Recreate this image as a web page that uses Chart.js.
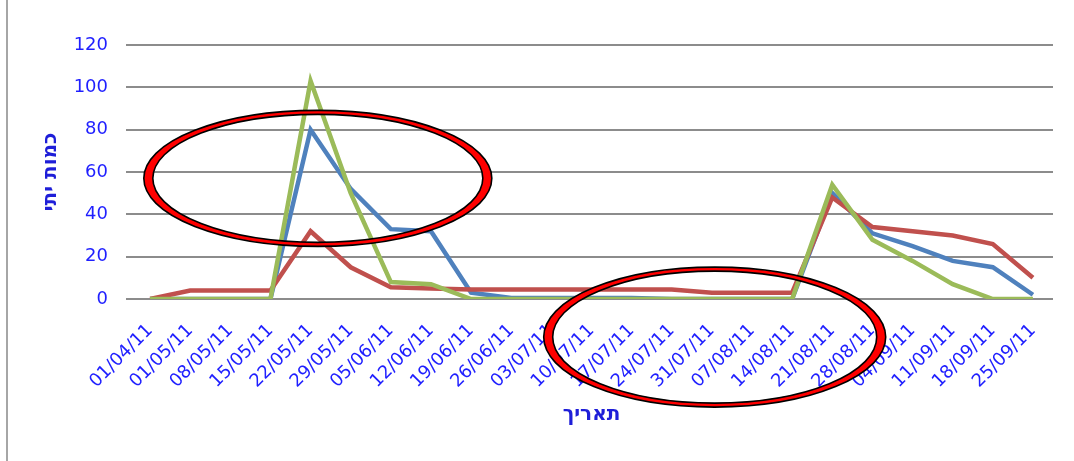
<!DOCTYPE html>
<html>
<head>
<meta charset="utf-8">
<script src="https://cdn.jsdelivr.net/npm/chart.js@4/dist/chart.umd.min.js"></script>
<style>
  html, body { margin: 0; padding: 0; background: #ffffff; }
  #wrap { width: 1074px; height: 461px; position: relative; }
</style>
</head>
<body>
<div id="wrap"><canvas id="chart" width="1074" height="461"></canvas></div>
<script>
// Weekly dates (dd/mm/yy)
const dates = ['01/04/11','01/05/11','08/05/11','15/05/11','22/05/11','29/05/11','05/06/11','12/06/11',
  '19/06/11','26/06/11','03/07/11','10/07/11','17/07/11','24/07/11','31/07/11','07/08/11','14/08/11',
  '21/08/11','28/08/11','04/09/11','11/09/11','18/09/11','25/09/11'];

// Series values
const series1 = [0, 0, 0, 0, 80, 52, 33, 32, 3, 0.5, 0.5, 0.5, 0.5, 0, 0, 0, 0, 50, 31, 25, 18, 15, 2];
const series2 = [0, 4, 4, 4, 32, 15, 5.5, 5, 4.5, 4.5, 4.5, 4.5, 4.5, 4.5, 3, 3, 3, 48, 34, 32, 30, 26, 10];
const series3 = [0, 0, 0, 0, 103, 50, 8, 7, 0, 0, 0, 0, 0, 0, 0, 0, 0, 54, 28, 18, 7, 0, 0];

// Value axis range
const yMin = 0;
const yMax = 120;
const yStep = 20;

// Axis titles
const xTitle = 'תאריך';
const yTitle = 'כמות יתי';

// Highlight rings, centred in axis units (category index, value), radii in pixels
const rings = [
  { index: 4.18, value: 57, rx: 174, ry: 68 },
  { index: 14.07, value: -18, rx: 171, ry: 70 }
];

const tickFont = { family: 'DejaVu Sans', size: 18 };
const titleFont = { family: 'DejaVu Sans', size: 20, weight: 'bold' };

const decorations = {
  id: 'decorations',
  beforeDraw(chart) {
    const ctx = chart.ctx;
    ctx.save();
    ctx.fillStyle = '#ffffff';
    ctx.fillRect(0, 0, chart.width, chart.height);
    // left frame rule
    ctx.strokeStyle = '#a6a6a6';
    ctx.lineWidth = 2;
    ctx.beginPath();
    ctx.moveTo(7, 0);
    ctx.lineTo(7, chart.height);
    ctx.stroke();
    ctx.restore();
  },
  afterDraw(chart) {
    const ctx = chart.ctx;
    const xs = chart.scales.x, ys = chart.scales.y;
    ctx.save();
    rings.forEach(r => {
      const cx = xs.getPixelForValue(r.index);
      const cy = ys.getPixelForValue(r.value);
      const irx = r.rx - 9, iry = r.ry - 4;
      // red band between two ellipses
      ctx.beginPath();
      ctx.ellipse(cx, cy, r.rx, r.ry, 0, 0, Math.PI * 2);
      ctx.closePath();
      ctx.moveTo(cx + irx, cy);
      ctx.ellipse(cx, cy, irx, iry, 0, 0, Math.PI * 2, true);
      ctx.closePath();
      ctx.fillStyle = '#ff0000';
      ctx.fill('evenodd');
      // black outlines
      ctx.strokeStyle = '#000000';
      ctx.lineWidth = 1.6;
      ctx.beginPath();
      ctx.ellipse(cx, cy, r.rx, r.ry, 0, 0, Math.PI * 2);
      ctx.stroke();
      ctx.beginPath();
      ctx.ellipse(cx, cy, irx, iry, 0, 0, Math.PI * 2);
      ctx.stroke();
    });
    ctx.restore();
  }
};

const lineStyle = { borderWidth: 4.5, pointRadius: 0, pointHoverRadius: 0, tension: 0, fill: false };

new Chart(document.getElementById('chart'), {
  type: 'line',
  data: {
    labels: dates,
    datasets: [
      Object.assign({ label: 'סדרה3', data: series3, borderColor: '#9bbb59' }, lineStyle),
      Object.assign({ label: 'סדרה2', data: series2, borderColor: '#c0504d' }, lineStyle),
      Object.assign({ label: 'סדרה1', data: series1, borderColor: '#4f81bd' }, lineStyle)
    ]
  },
  options: {
    responsive: false,
    animation: false,
    events: [],
    layout: { padding: { left: 0, right: 21, top: 45, bottom: 0 } },
    plugins: {
      legend: { display: false },
      tooltip: { enabled: false },
      title: { display: false }
    },
    scales: {
      x: {
        offset: true,
        grid: { display: false, drawTicks: false },
        border: { display: false },
        ticks: {
          color: '#1f1fff',
          font: tickFont,
          minRotation: 45,
          maxRotation: 45,
          autoSkip: false,
          padding: 21
        },
        title: {
          display: true,
          text: xTitle,
          color: '#1e1ed8',
          font: titleFont,
          padding: { top: 0, bottom: 34 }
        },
        afterFit(scale) {
          scale.height = 162;
          scale.paddingLeft = 0;
          scale.paddingRight = 0;
        }
      },
      y: {
        min: yMin,
        max: yMax,
        grid: { color: '#8c8c8c', lineWidth: 2, tickLength: 4, drawTicks: true },
        border: { display: false },
        ticks: {
          stepSize: yStep,
          color: '#1f1fff',
          font: tickFont,
          padding: 18
        },
        title: {
          display: true,
          text: yTitle,
          color: '#1e1ed8',
          font: titleFont,
          padding: { top: 39, bottom: 0 }
        },
        afterFit(scale) { scale.width = 130; }
      }
    }
  },
  plugins: [decorations]
});
</script>
</body>
</html>
